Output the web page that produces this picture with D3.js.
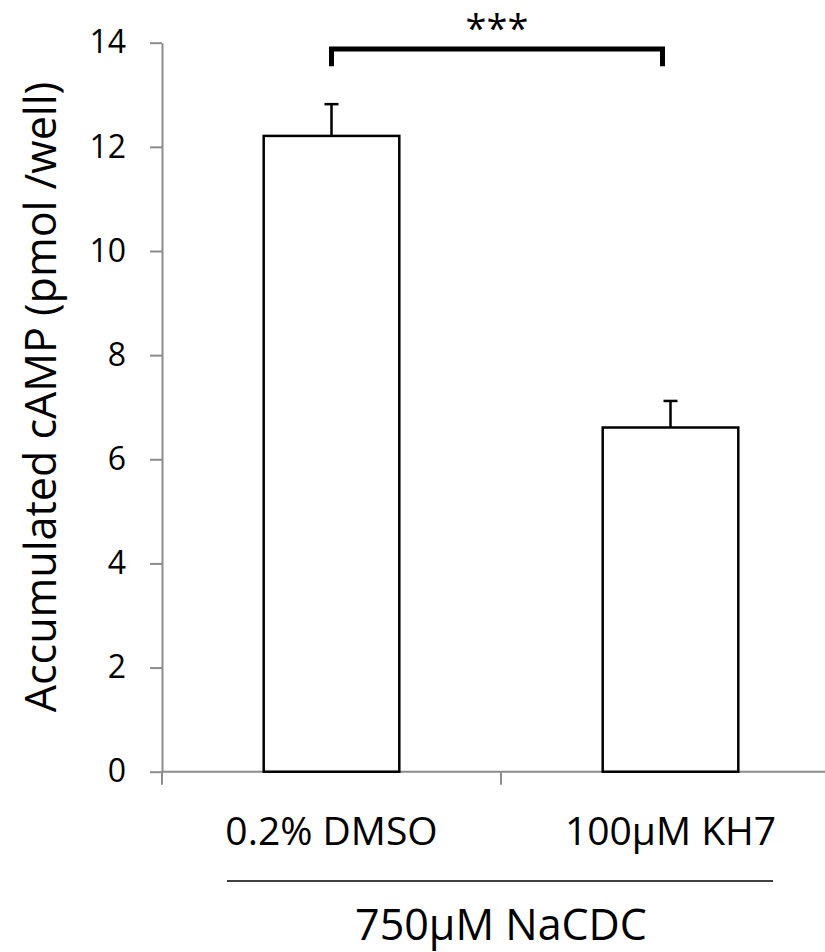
<!DOCTYPE html>
<html>
<head>
<meta charset="utf-8">
<script src="https://cdn.jsdelivr.net/npm/d3@7"></script>
<style>
  body { margin: 0; background: #fff; }
  text { font-family: "Open Sans", sans-serif; fill: #000; }
</style>
</head>
<body>
<div class="chart"></div>
<script>
var categories = ["0.2% DMSO", "100\u00b5M KH7"];
var means = [12.21, 6.61];
var errors = [0.61, 0.51];
var yTicks = [0, 2, 4, 6, 8, 10, 12, 14];
var yTitle = "Accumulated cAMP (pmol /well)";
var groupLabel = "750\u00b5M NaCDC";
var sigLabel = "***";
var bracketLevel = 13.88;
var bracketFoot = 13.55;

var width = 825;
var height = 952;

var svg = d3.select('.chart')
    .append('svg')
    .attr('width', width)
    .attr('height', height);

// scales
var yscale = d3.scaleLinear()
    .domain([0, 14])
    .range([771.7, 42.7]);

var xscale = d3.scaleBand()
    .domain(categories)
    .range([162, 840])
    .paddingInner(0.6)
    .paddingOuter(0.3);

var step = xscale.step();
var bw = xscale.bandwidth();

// y axis
var yaxis = d3.axisLeft(yscale)
    .tickValues(yTicks)
    .tickSize(12)
    .tickPadding(24)
    .tickSizeOuter(0);

var gy = svg.append('g')
    .attr('transform', 'translate(162,0)')
    .call(yaxis);
gy.select('.domain').attr('stroke', '#8c8c8c').attr('stroke-width', 2);
gy.selectAll('.tick line').attr('stroke', '#8c8c8c').attr('stroke-width', 2);
gy.selectAll('.tick text')
    .style('font-size', '32px')
    .attr('fill', '#000');

// x axis line with tick between categories
svg.append('line')
    .attr('x1', 162).attr('x2', 840)
    .attr('y1', yscale(0)).attr('y2', yscale(0))
    .attr('stroke', '#8c8c8c').attr('stroke-width', 2);

var xTickPos = [162, 162 + step, 162 + 2 * step];
svg.selectAll('.xtick')
    .data(xTickPos)
    .enter()
    .append('line')
    .attr('class', 'xtick')
    .attr('x1', d => d).attr('x2', d => d)
    .attr('y1', yscale(0)).attr('y2', yscale(0) + 13)
    .attr('stroke', '#8c8c8c').attr('stroke-width', 2);

// bars
svg.selectAll('rect.bar')
    .data(means)
    .enter()
    .append('rect')
    .attr('class', 'bar')
    .attr('x', (d, i) => xscale(categories[i]))
    .attr('y', d => yscale(d))
    .attr('width', bw)
    .attr('height', d => yscale(0) - yscale(d))
    .attr('fill', '#fff')
    .attr('stroke', '#000')
    .attr('stroke-width', 2.5);

// error bars
var cx = i => xscale(categories[i]) + bw / 2;
svg.selectAll('line.err')
    .data(means)
    .enter()
    .append('line')
    .attr('class', 'err')
    .attr('x1', (d, i) => cx(i)).attr('x2', (d, i) => cx(i))
    .attr('y1', d => yscale(d))
    .attr('y2', (d, i) => yscale(d + errors[i]))
    .attr('stroke', '#000').attr('stroke-width', 2.5);

svg.selectAll('line.cap')
    .data(means)
    .enter()
    .append('line')
    .attr('class', 'cap')
    .attr('x1', (d, i) => cx(i) - 7).attr('x2', (d, i) => cx(i) + 7)
    .attr('y1', (d, i) => yscale(d + errors[i]))
    .attr('y2', (d, i) => yscale(d + errors[i]))
    .attr('stroke', '#000').attr('stroke-width', 2.5);

// significance bracket
var bx1 = cx(0);
var bx2 = cx(1) - 8;
svg.append('path')
    .attr('d', 'M' + bx1 + ',' + yscale(bracketFoot) +
               'V' + yscale(bracketLevel) +
               'H' + bx2 +
               'V' + yscale(bracketFoot))
    .attr('fill', 'none')
    .attr('stroke', '#000')
    .attr('stroke-width', 5);

svg.append('text')
    .attr('x', (bx1 + bx2) / 2)
    .attr('y', 42)
    .attr('text-anchor', 'middle')
    .style('font-size', '38px')
    .text(sigLabel);

// category labels
svg.selectAll('text.cat')
    .data(categories)
    .enter()
    .append('text')
    .attr('class', 'cat')
    .attr('x', d => xscale(d) + bw / 2)
    .attr('y', 845)
    .attr('text-anchor', 'middle')
    .style('font-size', '39px')
    .text(d => d);

// group line and label
svg.append('line')
    .attr('x1', 227).attr('x2', 773)
    .attr('y1', 881).attr('y2', 881)
    .attr('stroke', '#000').attr('stroke-width', 1.5);

svg.append('text')
    .attr('x', 501)
    .attr('y', 940)
    .attr('text-anchor', 'middle')
    .style('font-size', '43px')
    .text(groupLabel);

// y title
svg.append('text')
    .attr('transform', 'translate(56,397) rotate(-90)')
    .attr('text-anchor', 'middle')
    .style('font-size', '43px')
    .text(yTitle);
</script>
</body>
</html>
